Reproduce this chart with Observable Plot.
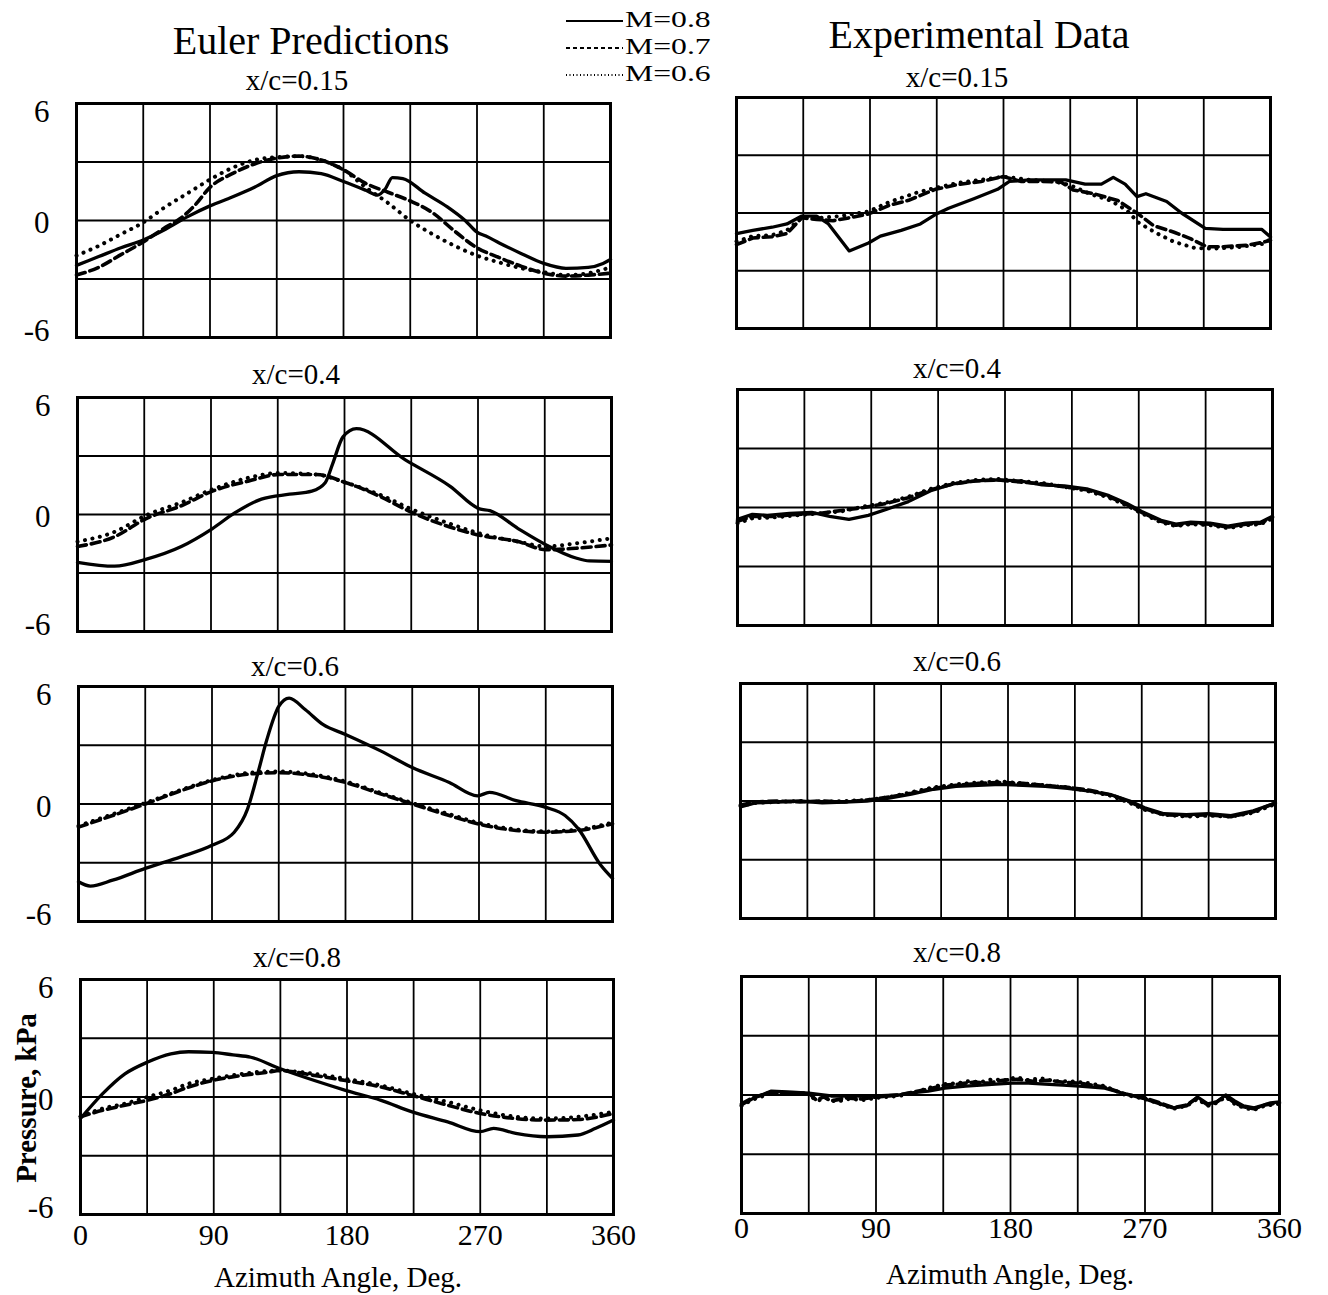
<!DOCTYPE html>
<html><head><meta charset="utf-8">
<script src="https://cdn.jsdelivr.net/npm/d3@7"></script>
<script src="https://cdn.jsdelivr.net/npm/@observablehq/plot@0.6"></script>
<style>
body{margin:0;background:#fff;}
#root{position:relative;width:1328px;height:1295px;background:#fff;font-family:"Liberation Serif","Times New Roman",serif;color:#000;overflow:hidden}
.t{position:absolute;transform:translate(-50%,-50%);line-height:1;white-space:nowrap}
</style></head><body><div id="root"></div>
<script>
// ---- tick / label arrays ----
const angleTicks = [0, 90, 180, 270, 360];
const gridAngles = [0, 45, 90, 135, 180, 225, 270, 315, 360];
const gridPressures = [-6, -3, 0, 3, 6];
const machLabels = ["M=0.8", "M=0.7", "M=0.6"];
const stationLabels = ["x/c=0.15", "x/c=0.4", "x/c=0.6", "x/c=0.8"];
const columnTitles = ["Euler Predictions", "Experimental Data"];
const xTitle = "Azimuth Angle, Deg.";
const yTitle = "Pressure, kPa";

// ---- Euler predictions: [azimuth deg, pressure kPa] ----
const euler015_m08 = [[0,-2.3],[15,-1.85],[30,-1.4],[45,-1.0],[60,-0.45],[75,0.2],[90,0.75],[105,1.2],[120,1.7],[135,2.3],[150,2.5],[165,2.4],[180,2.0],[195,1.55],[203,1.3],[208,1.6],[213,2.2],[220,2.15],[235,1.4],[250,0.7],[262,0.0],[270,-0.6],[276,-0.8],[285,-1.15],[300,-1.7],[315,-2.2],[330,-2.45],[345,-2.4],[355,-2.2],[360,-2.0]];
const euler015_m07 = [[0,-2.8],[15,-2.4],[30,-1.75],[45,-1.1],[60,-0.35],[70,0.1],[80,0.8],[90,1.7],[105,2.4],[120,2.9],[135,3.2],[150,3.3],[165,3.1],[180,2.6],[195,1.9],[210,1.45],[225,1.0],[240,0.4],[255,-0.55],[270,-1.4],[285,-1.9],[300,-2.35],[315,-2.7],[330,-2.85],[345,-2.8],[360,-2.7]];
const euler015_m06 = [[0,-1.8],[15,-1.3],[30,-0.7],[45,-0.1],[60,0.7],[75,1.4],[90,2.1],[105,2.7],[120,3.1],[135,3.25],[150,3.3],[165,3.1],[180,2.6],[195,1.7],[210,0.9],[225,0.0],[240,-0.7],[255,-1.3],[270,-1.8],[285,-2.15],[300,-2.45],[315,-2.65],[330,-2.8],[345,-2.7],[360,-2.4]];

const euler04_m08 = [[0,-2.45],[25,-2.65],[46,-2.3],[70,-1.64],[91,-0.72],[106,0.08],[124,0.79],[143,1.04],[158,1.2],[167,1.63],[172,2.6],[179,3.98],[188,4.4],[221,2.8],[251,1.46],[271,0.29],[278,0.2],[297,-0.72],[316,-1.56],[336,-2.23],[345,-2.38],[360,-2.4]];
const euler04_m07 = [[0,-1.64],[25,-1.14],[46,-0.22],[70,0.45],[91,1.2],[115,1.71],[136,2.05],[161,2.05],[181,1.63],[203,0.96],[225,0.12],[251,-0.64],[271,-1.06],[297,-1.39],[316,-1.81],[336,-1.73],[360,-1.56]];
const euler04_m06 = [[0,-1.39],[25,-0.89],[46,-0.05],[70,0.62],[91,1.29],[115,1.88],[136,2.13],[161,2.05],[181,1.63],[203,1.04],[225,0.28],[251,-0.47],[271,-0.97],[297,-1.39],[316,-1.64],[336,-1.48],[360,-1.22]];

const euler06_m08 = [[0,-3.97],[8,-4.19],[23,-3.89],[45,-3.29],[69,-2.7],[90,-2.11],[105,-1.44],[114,-0.25],[121,1.6],[127,3.29],[135,4.98],[142,5.41],[153,4.81],[165,4.05],[180,3.55],[204,2.7],[225,1.86],[250,1.1],[269,0.42],[277,0.59],[295,0.17],[315,-0.17],[328,-0.59],[337,-1.27],[352,-3.12],[360,-3.8]];
const euler06_m07 = [[0,-1.18],[23,-0.59],[45,0],[69,0.68],[90,1.18],[114,1.52],[135,1.6],[159,1.44],[180,1.1],[204,0.51],[225,0],[250,-0.59],[269,-1.01],[295,-1.35],[315,-1.44],[337,-1.35],[360,-1.01]];
const euler06_m06 = [[0,-1.12],[23,-0.52],[45,0.05],[69,0.72],[90,1.22],[114,1.58],[135,1.66],[159,1.5],[180,1.15],[204,0.56],[225,0.05],[250,-0.52],[269,-0.95],[295,-1.3],[315,-1.4],[337,-1.3],[360,-0.95]];

const euler08_m08 = [[0,-1.1],[15,0.17],[30,1.18],[45,1.77],[61,2.2],[73,2.31],[89,2.28],[103,2.15],[115,2.03],[135,1.44],[158,0.84],[179,0.34],[203,-0.17],[224,-0.76],[248,-1.27],[270,-1.77],[279,-1.6],[294,-1.86],[315,-2.03],[336,-1.94],[348,-1.6],[360,-1.18]];
const euler08_m07 = [[0,-1.01],[15,-0.68],[30,-0.42],[45,-0.17],[61,0.17],[73,0.51],[89,0.84],[109,1.1],[127,1.27],[135,1.35],[158,1.1],[179,0.84],[203,0.51],[224,0.08],[248,-0.42],[270,-0.84],[294,-1.1],[315,-1.18],[336,-1.15],[360,-0.84]];
const euler08_m06 = [[0,-1.0],[15,-0.59],[30,-0.34],[45,0.0],[61,0.34],[73,0.68],[89,0.93],[109,1.18],[135,1.35],[158,1.18],[179,0.93],[203,0.59],[224,0.17],[248,-0.25],[270,-0.68],[294,-1.01],[315,-1.1],[336,-1.01],[360,-0.76]];

// ---- Experimental data: [azimuth deg, pressure kPa] ----
const exp015_m08 = [[0,-1.07],[11,-0.9],[24,-0.74],[34,-0.57],[44,-0.16],[54,-0.16],[62,-0.57],[76,-1.97],[89,-1.56],[97,-1.2],[111,-0.9],[124,-0.57],[134,-0.08],[143,0.25],[160,0.74],[176,1.23],[184,1.64],[198,1.72],[211,1.72],[222,1.72],[235,1.5],[246,1.5],[254,1.85],[262,1.5],[270,0.85],[276,1.0],[290,0.6],[300,0.0],[316,-0.8],[328,-0.85],[344,-0.85],[354,-0.85],[360,-1.25]];
const exp015_m07 = [[0,-1.64],[11,-1.3],[24,-1.23],[34,-1.07],[44,-0.25],[54,-0.33],[65,-0.4],[76,-0.25],[89,-0.05],[103,0.4],[116,0.66],[134,1.23],[149,1.48],[165,1.64],[180,1.89],[192,1.64],[206,1.64],[219,1.6],[227,1.2],[241,1.0],[257,0.65],[270,0.0],[281,-0.65],[295,-1.0],[306,-1.33],[317,-1.75],[328,-1.75],[344,-1.68],[355,-1.52],[360,-1.42]];
const exp015_m06 = [[0,-1.48],[11,-1.2],[24,-1.15],[34,-0.9],[44,-0.25],[57,-0.25],[70,-0.16],[89,0.08],[103,0.57],[122,1.07],[134,1.3],[149,1.56],[165,1.72],[180,1.89],[198,1.72],[214,1.64],[225,1.45],[238,1.0],[252,0.65],[263,0.15],[271,-0.5],[282,-1.0],[295,-1.5],[309,-1.82],[322,-1.85],[338,-1.78],[355,-1.6],[360,-1.35]];

const exp04_m08 = [[0,-0.6],[10,-0.35],[20,-0.4],[35,-0.3],[50,-0.25],[62,-0.45],[75,-0.6],[88,-0.4],[100,-0.1],[115,0.3],[130,0.85],[145,1.2],[160,1.35],[175,1.4],[190,1.35],[205,1.15],[220,1.1],[235,0.95],[250,0.6],[262,0.2],[272,-0.2],[285,-0.65],[295,-0.85],[305,-0.75],[318,-0.8],[330,-0.95],[342,-0.8],[352,-0.75],[360,-0.45]];
const exp04_m07 = [[0,-0.7],[10,-0.45],[25,-0.45],[40,-0.35],[55,-0.3],[70,-0.15],[85,0.0],[100,0.2],[115,0.5],[130,0.9],[145,1.2],[160,1.35],[175,1.4],[190,1.3],[205,1.2],[220,1.05],[235,0.9],[250,0.55],[262,0.15],[272,-0.25],[285,-0.7],[295,-0.9],[305,-0.8],[318,-0.85],[330,-1.0],[342,-0.85],[352,-0.8],[360,-0.5]];
const exp04_m06 = [[0,-0.8],[10,-0.55],[25,-0.5],[40,-0.4],[55,-0.3],[70,-0.2],[85,0.05],[100,0.25],[115,0.55],[130,0.95],[145,1.25],[160,1.4],[175,1.45],[190,1.35],[205,1.25],[220,1.05],[235,0.85],[250,0.5],[262,0.1],[272,-0.3],[285,-0.75],[295,-0.95],[305,-0.85],[318,-0.9],[330,-1.05],[342,-0.9],[352,-0.85],[360,-0.55]];

const exp06_m08 = [[0,-0.3],[10,-0.1],[25,-0.05],[40,0.0],[55,-0.1],[70,-0.05],[85,0.0],[100,0.15],[115,0.35],[130,0.6],[145,0.75],[160,0.8],[175,0.85],[190,0.8],[205,0.75],[220,0.65],[235,0.5],[250,0.3],[262,0.0],[272,-0.35],[285,-0.65],[300,-0.7],[315,-0.65],[330,-0.75],[345,-0.5],[360,-0.1]];
const exp06_m07 = [[0,-0.2],[10,-0.05],[25,0.0],[40,-0.05],[55,0.0],[70,-0.05],[85,0.05],[100,0.2],[115,0.4],[130,0.65],[145,0.8],[160,0.9],[175,0.95],[190,0.9],[205,0.8],[220,0.7],[235,0.55],[250,0.3],[262,-0.05],[272,-0.4],[285,-0.7],[300,-0.75],[315,-0.7],[330,-0.8],[345,-0.55],[360,-0.1]];
const exp06_m06 = [[0,-0.25],[10,-0.1],[25,-0.05],[40,0.0],[55,-0.05],[70,0.0],[85,0.05],[100,0.2],[115,0.45],[130,0.7],[145,0.85],[160,0.95],[175,1.0],[190,0.9],[205,0.8],[220,0.7],[235,0.5],[250,0.25],[262,-0.1],[272,-0.45],[285,-0.7],[300,-0.8],[315,-0.75],[330,-0.8],[345,-0.6],[360,-0.15]];

const exp08_m08 = [[0,-0.5],[7,-0.2],[20,0.2],[34,0.15],[45,0.1],[60,-0.05],[75,-0.05],[90,-0.05],[105,0.0],[112,0.1],[125,0.2],[136,0.35],[150,0.45],[160,0.5],[170,0.55],[181,0.6],[192,0.6],[203,0.55],[215,0.5],[226,0.45],[243,0.35],[257,0.05],[270,-0.2],[280,-0.45],[289,-0.65],[298,-0.55],[305,-0.1],[312,-0.45],[318,-0.35],[324,0.0],[330,-0.3],[336,-0.55],[343,-0.65],[350,-0.5],[354,-0.4],[360,-0.35]];
const exp08_m07 = [[0,-0.45],[7,-0.15],[20,0.15],[34,0.1],[45,0.1],[50,-0.25],[55,-0.1],[60,-0.3],[70,-0.15],[80,-0.2],[90,-0.1],[105,0.0],[115,0.15],[125,0.3],[136,0.5],[145,0.55],[155,0.65],[165,0.6],[175,0.75],[185,0.8],[195,0.7],[205,0.75],[215,0.65],[226,0.6],[243,0.4],[257,0.05],[270,-0.15],[280,-0.4],[289,-0.65],[298,-0.5],[305,-0.15],[312,-0.5],[318,-0.35],[324,-0.05],[330,-0.4],[336,-0.6],[343,-0.7],[350,-0.5],[360,-0.4]];
const exp08_m06 = [[0,-0.55],[7,-0.25],[20,0.1],[34,0.1],[45,0.05],[50,-0.3],[58,-0.15],[63,-0.35],[72,-0.2],[82,-0.25],[90,-0.15],[105,-0.05],[115,0.1],[125,0.35],[136,0.55],[145,0.6],[152,0.7],[160,0.65],[168,0.8],[176,0.75],[184,0.9],[192,0.75],[200,0.85],[210,0.7],[220,0.7],[232,0.6],[243,0.45],[257,0.0],[270,-0.2],[280,-0.45],[289,-0.7],[298,-0.55],[305,-0.2],[312,-0.55],[318,-0.4],[324,-0.1],[330,-0.45],[336,-0.65],[343,-0.75],[350,-0.55],[360,-0.45]];

// ---- layout ----
const root = document.getElementById("root");
const FONT = '"Liberation Serif","Times New Roman",serif';

const styles = [
  {strokeWidth: 3.3},                                                 // M=0.8 solid
  {strokeWidth: 3.6, strokeDasharray: "9,5"},                         // M=0.7 dashed
  {strokeWidth: 4, strokeDasharray: "0.1,7.5", strokeLinecap: "round"} // M=0.6 dotted
];

function addText(txt, x, y, size, extra = {}) {
  const d = document.createElement("div");
  d.className = "t";
  d.textContent = txt;
  d.style.left = x + "px";
  d.style.top = y + "px";
  d.style.fontSize = size + "px";
  Object.assign(d.style, extra);
  root.appendChild(d);
  return d;
}

function panel(series, frame, opts) {
  const [L, T, R, B] = frame;
  const mL = opts.showY ? 80 : 20, mR = 45, mT = 12, mB = opts.showX ? 50 : 12;
  const marks = [
    Plot.gridX(gridAngles, {stroke: "#000", strokeOpacity: 1, strokeWidth: 1.8}),
    Plot.gridY(gridPressures, {stroke: "#000", strokeOpacity: 1, strokeWidth: 1.8}),
    ...series.map((s, i) => Plot.line(s, {x: d => d[0], y: d => d[1], stroke: "#000", curve: opts.curve, ...styles[i]})),
    Plot.frame({stroke: "#000", strokeWidth: 3})
  ];
  if (opts.showY) {
    const yo = {tickSize: 0, tickPadding: 27, fontSize: 31, fontFamily: FONT, label: null, tickFormat: d => String(d)};
    marks.push(Plot.axisY([6], {...yo, dy: 9}));
    marks.push(Plot.axisY([0], {...yo, dy: 3}));
    marks.push(Plot.axisY([-6], {...yo, dy: -6}));
  }
  if (opts.showX) {
    marks.push(Plot.axisX(angleTicks, {tickSize: 0, tickPadding: opts.xPad, fontSize: 30, fontFamily: FONT, label: null, tickFormat: d => String(d)}));
  }
  const svg = Plot.plot({
    width: (R - L) + mL + mR,
    height: (B - T) + mT + mB,
    marginLeft: mL, marginRight: mR, marginTop: mT, marginBottom: mB,
    x: {domain: [0, 360], axis: null},
    y: {domain: [-6, 6], axis: null},
    style: {background: "transparent", fontFamily: FONT, color: "#000", overflow: "visible"},
    marks
  });
  svg.style.position = "absolute";
  svg.style.left = (L - mL) + "px";
  svg.style.top = (T - mT) + "px";
  root.appendChild(svg);
}

const leftFrames = [[76,103,610,337],[77,397,611,631],[78,686,612,921],[80,979,613,1214]];
const rightFrames = [[736,97,1270,328],[737,389,1272,625],[740,683,1275,918],[741,976,1279,1213]];
const eulerSets = [
  [euler015_m08, euler015_m07, euler015_m06],
  [euler04_m08, euler04_m07, euler04_m06],
  [euler06_m08, euler06_m07, euler06_m06],
  [euler08_m08, euler08_m07, euler08_m06]
];
const expSets = [
  [exp015_m08, exp015_m07, exp015_m06],
  [exp04_m08, exp04_m07, exp04_m06],
  [exp06_m08, exp06_m07, exp06_m06],
  [exp08_m08, exp08_m07, exp08_m06]
];

for (let r = 0; r < 4; r++) {
  panel(eulerSets[r], leftFrames[r], {showY: true, showX: r === 3, curve: "monotone-x", xPad: 9});
  panel(expSets[r], rightFrames[r], {showY: false, showX: r === 3, curve: "linear", xPad: 3});
}

// column titles
addText(columnTitles[0], 311, 41, 40);
addText(columnTitles[1], 979, 35, 40);

// station titles
const leftTitlePos = [[297,80],[296,374],[295,666],[297,957]];
const rightTitlePos = [[957,77],[957,368],[957,661],[957,952]];
stationLabels.forEach((s, i) => {
  addText(s, leftTitlePos[i][0], leftTitlePos[i][1], 29);
  addText(s, rightTitlePos[i][0], rightTitlePos[i][1], 29);
});

// axis titles
addText(xTitle, 338, 1277, 29);
addText(xTitle, 1010, 1274, 29);
addText(yTitle, 26, 1098, 29, {transform: "translate(-50%,-50%) rotate(-90deg)", fontWeight: "bold"});

// legend
const legY = [19, 46, 73];
const ns = "http://www.w3.org/2000/svg";
const lsvg = document.createElementNS(ns, "svg");
lsvg.setAttribute("width", 70); lsvg.setAttribute("height", 90);
lsvg.style.position = "absolute"; lsvg.style.left = "560px"; lsvg.style.top = "0px";
const legStyles = [{w: 1.8}, {w: 1.8, dash: "4,3"}, {w: 1.8, dash: "1,2.5"}];
machLabels.forEach((m, i) => {
  const ln = document.createElementNS(ns, "line");
  ln.setAttribute("x1", 6); ln.setAttribute("x2", 63);
  ln.setAttribute("y1", legY[i] + 2); ln.setAttribute("y2", legY[i] + 2);
  ln.setAttribute("stroke", "#000"); ln.setAttribute("stroke-width", legStyles[i].w);
  if (legStyles[i].dash) ln.setAttribute("stroke-dasharray", legStyles[i].dash);
  lsvg.appendChild(ln);
  const t = addText(m, 625, legY[i], 24, {lineHeight: "1"});
  t.style.transformOrigin = "0 50%";
  t.style.transform = "translate(0,-50%) scale(1.32,1)";
});
root.appendChild(lsvg);
</script></body></html>
